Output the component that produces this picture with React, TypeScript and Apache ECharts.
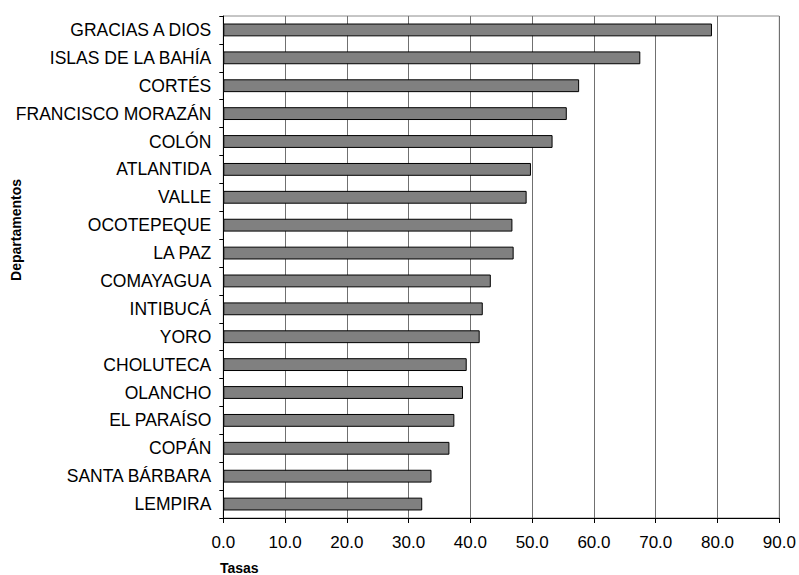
import React, { useEffect, useRef } from "react";
import * as echarts from "echarts";

const categories = [
  "GRACIAS A DIOS",
  "ISLAS DE LA BAHÍA",
  "CORTÉS",
  "FRANCISCO MORAZÁN",
  "COLÓN",
  "ATLANTIDA",
  "VALLE",
  "OCOTEPEQUE",
  "LA PAZ",
  "COMAYAGUA",
  "INTIBUCÁ",
  "YORO",
  "CHOLUTECA",
  "OLANCHO",
  "EL PARAÍSO",
  "COPÁN",
  "SANTA BÁRBARA",
  "LEMPIRA",
];
const tasas = [79.1, 67.5, 57.6, 55.6, 53.3, 49.8, 49.1, 46.8, 47.0, 43.3, 42.0, 41.5, 39.4, 38.8, 37.4, 36.6, 33.7, 32.2];
const xTitle = "Tasas";
const yTitle = "Departamentos";

export default function App() {
  const ref = useRef<HTMLDivElement>(null);
  useEffect(() => {
    if (!ref.current) return;
    const chart = echarts.init(ref.current, null, { renderer: "svg" });
    const font = "'Liberation Sans', Arial, sans-serif";
    chart.setOption({
      animation: false,
      backgroundColor: "#ffffff",
      grid: {
        left: 223.3,
        right: 19.7,
        top: 16,
        bottom: 57,
        show: true,
        borderColor: "#8c8c8c",
        borderWidth: 1,
      },
      xAxis: {
        type: "value",
        min: 0,
        max: 90,
        interval: 10,
        axisLine: { show: true, lineStyle: { color: "#000", width: 1 } },
        axisTick: { show: true, length: 5, lineStyle: { color: "#000" } },
        axisLabel: {
          color: "#000",
          fontFamily: font,
          fontSize: 17,
          margin: 16,
          formatter: (v: number) => v.toFixed(1),
        },
        splitLine: { show: true, lineStyle: { color: "#707070", width: 1 } },
      },
      yAxis: {
        type: "category",
        data: categories,
        inverse: true,
        axisLine: { show: true, lineStyle: { color: "#000", width: 1 } },
        axisTick: { show: true, length: 4, lineStyle: { color: "#000" } },
        axisLabel: {
          color: "#000",
          fontFamily: font,
          fontSize: 17.5,
          margin: 12,
        },
        splitLine: { show: false },
      },
      series: [
        {
          type: "bar",
          data: tasas,
          barCategoryGap: "54%",
          itemStyle: { color: "#808080", borderColor: "#000", borderWidth: 1 },
        },
      ],
      graphic: [
        {
          type: "text",
          left: 220,
          top: 561,
          style: { text: xTitle, fontFamily: font, fontSize: 14, fontWeight: "bold", fill: "#000" },
        },
        {
          type: "text",
          x: 16,
          y: 230,
          rotation: Math.PI / 2,
          style: {
            text: yTitle,
            fontFamily: font,
            fontSize: 14,
            fontWeight: "bold",
            fill: "#000",
            align: "center",
            verticalAlign: "middle",
          },
        },
      ],
    });
    return () => chart.dispose();
  }, []);
  return (
    <div
      ref={ref}
      style={{ position: "absolute", left: 0, top: 0, width: 799, height: 575 }}
    />
  );
}
